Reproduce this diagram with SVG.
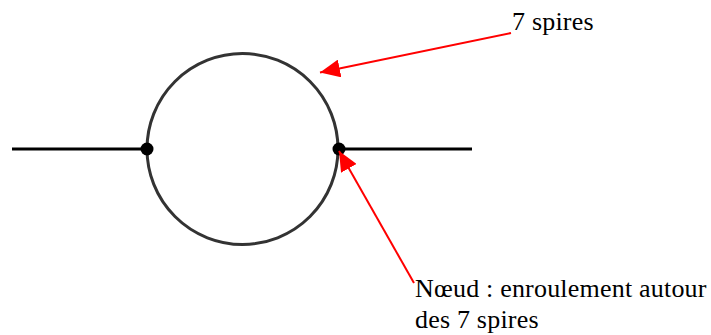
<svg xmlns="http://www.w3.org/2000/svg" width="711" height="335" viewBox="0 0 711 335">
<style>
.lead{stroke:#000;stroke-width:3;fill:none}
.dot{fill:#000}
.arr{stroke:#f00;stroke-width:2;fill:none}
.lbl{font-family:"Liberation Serif",serif;font-size:26px;letter-spacing:0.2px;fill:#000}
</style>
<defs>
<marker id="ah" markerWidth="20" markerHeight="18" refX="20" refY="9" orient="auto" markerUnits="userSpaceOnUse" viewBox="0 0 20 18">
<path d="M0,0 L20,9 L0,18 Z" fill="#f00"/>
</marker>
</defs>
<g id="coil">
<line class="lead" x1="12" y1="149" x2="147" y2="149"/>
<line class="lead" x1="339" y1="149" x2="472" y2="149"/>
<circle cx="242.5" cy="149" r="95.5" fill="none" stroke="#333" stroke-width="3"/>
<circle class="dot" cx="147" cy="149" r="6.5"/>
<circle class="dot" cx="339" cy="149" r="6.5"/>
</g>
<g id="connectors">
<line class="arr" x1="511" y1="33" x2="320" y2="72.5" marker-end="url(#ah)"/>
<line class="arr" x1="414" y1="283" x2="339" y2="151" marker-end="url(#ah)"/>
</g>
<g id="label-spires">
<text class="lbl" x="512" y="30">7 spires</text>
</g>
<g id="label-noeud">
<text class="lbl" x="415" y="297">Nœud : enroulement autour</text>
<text class="lbl" x="415" y="328">des 7 spires</text>
</g>
</svg>
